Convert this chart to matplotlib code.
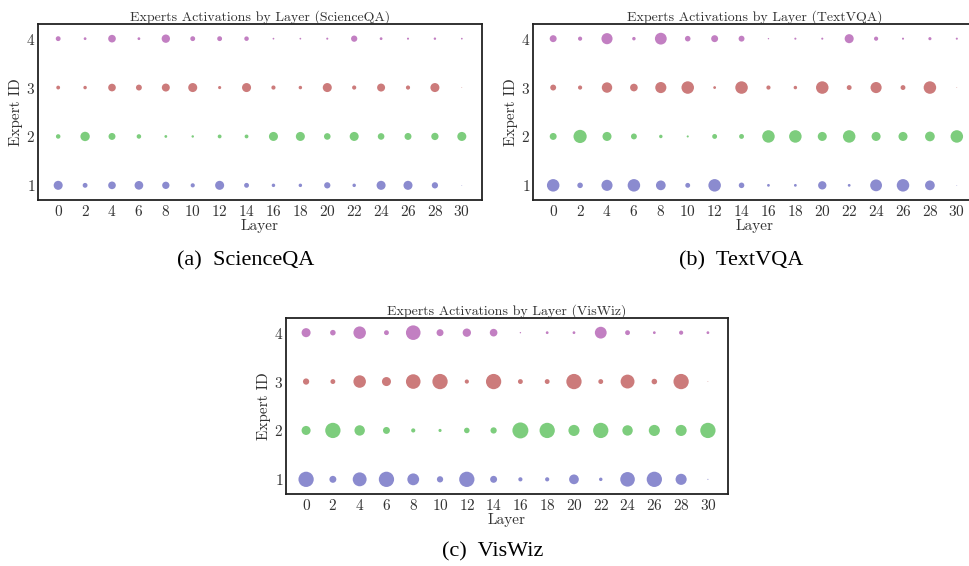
import matplotlib
matplotlib.use("Agg")
import matplotlib.pyplot as plt
import numpy as np

plt.rcParams["font.family"] = ["cmr10", "DejaVu Serif"]
plt.rcParams["axes.formatter.use_mathtext"] = True

layers = list(range(0, 32, 2))
experts = [1, 2, 3, 4]
colors = ["#8b8bcf", "#7dcd7d", "#cc7b7b", "#c27fc2"]

# marker diameters (relative units), one list per expert
scienceqa = {
    1: [26, 14, 22, 25, 21, 12, 26, 14, 10, 10, 18, 10, 26, 26, 18, 2],
    2: [13, 27, 20, 13, 8, 7, 11, 11, 26, 26, 19, 26, 19, 20, 21, 26],
    3: [11, 10, 22, 17, 23, 26, 9, 26, 12, 10, 26, 12, 23, 12, 26, 2],
    4: [14, 8, 22, 8, 24, 14, 14, 13, 5, 5, 6, 18, 8, 6, 7, 5],
}
textvqa = {
    1: [36, 16, 32, 36, 28, 14, 36, 16, 8, 8, 24, 8, 34, 36, 28, 2],
    2: [20, 38, 26, 17, 10, 6, 14, 14, 36, 36, 26, 36, 26, 26, 28, 36],
    3: [17, 12, 30, 22, 32, 36, 8, 36, 12, 10, 36, 14, 32, 14, 36, 2],
    4: [20, 12, 32, 10, 34, 16, 20, 17, 4, 6, 6, 26, 12, 6, 9, 6],
}
viswiz = {
    1: [44, 20, 40, 44, 34, 18, 44, 20, 12, 12, 28, 10, 42, 44, 32, 3],
    2: [26, 44, 30, 20, 12, 9, 16, 18, 46, 44, 32, 44, 30, 32, 32, 44],
    3: [18, 14, 36, 26, 42, 44, 12, 44, 14, 14, 44, 14, 40, 16, 44, 2],
    4: [26, 16, 36, 14, 42, 20, 24, 22, 4, 8, 8, 34, 14, 8, 12, 8],
}

W, H = 969, 566
fig = plt.figure(figsize=(W / 100, H / 100), dpi=100)


def panel(rect, data, name, caption, cap_xy):
    l, t, w, h = rect
    ax = fig.add_axes([l / W, 1 - (t + h) / H, w / W, h / H])
    for e, c in zip(experts, colors):
        d = np.array(data[e]) * 0.25
        ax.scatter(layers, [e] * len(layers), s=d ** 2, color=c, linewidths=0)
    ax.set_xlim(-1.5, 31.5)
    ax.set_ylim(0.7, 4.3)
    ax.set_xticks(layers)
    ax.set_yticks(experts)
    ax.tick_params(length=0, labelsize=11, labelcolor="#333333")
    ax.tick_params(axis="x", pad=3)
    ax.tick_params(axis="y", pad=2)
    for s in ax.spines.values():
        s.set_linewidth(1.3)
        s.set_color("#222222")
    ax.set_xlabel("Layer", fontsize=11, color="#333333", labelpad=0)
    ax.set_ylabel("Expert ID", fontsize=11, color="#333333", labelpad=2)
    ax.set_title(f"Experts Activations by Layer ({name})", fontsize=10,
                 color="#333333", pad=2)
    fig.text(cap_xy[0] / W, 1 - cap_xy[1] / H, caption, ha="center",
             va="center", fontsize=16, family="Liberation Serif")


panel((38, 24, 444, 176), scienceqa, "ScienceQA", "(a)  ScienceQA", (246, 261))
panel((533, 24, 444, 176), textvqa, "TextVQA", "(b)  TextVQA", (741, 261))
panel((286, 318, 442, 176), viswiz, "VisWiz", "(c)  VisWiz", (493, 552))

fig.savefig("out.png", dpi=100)
